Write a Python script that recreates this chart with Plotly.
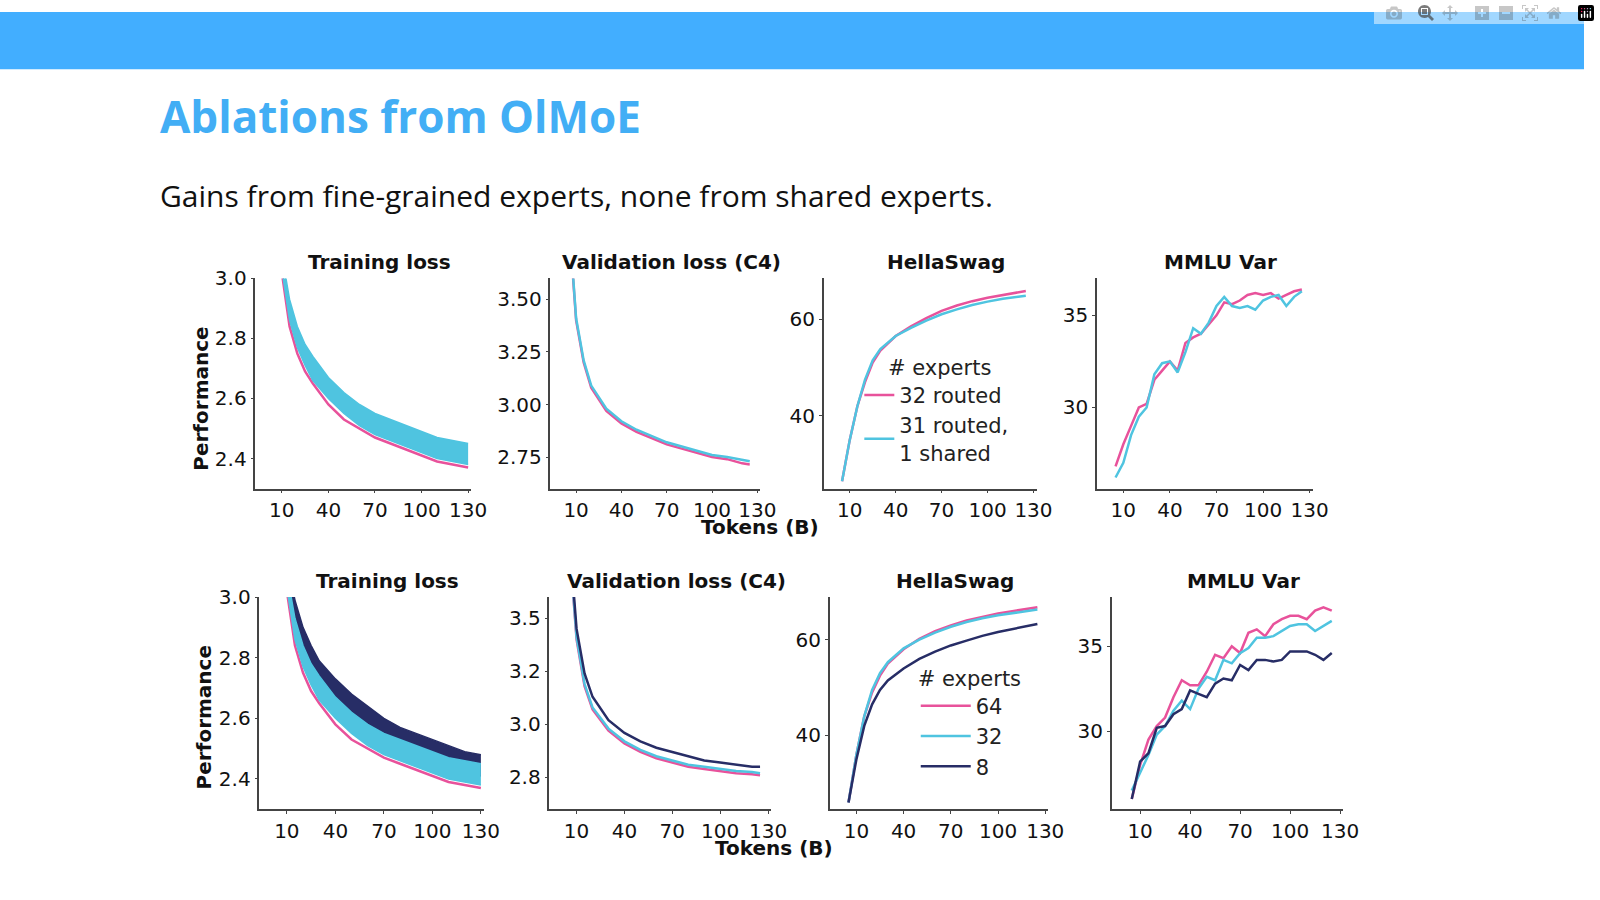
from plotly.subplots import make_subplots
import plotly.graph_objects as go

PINK = "#E8529B"
CYAN = "#4FC4E0"
NAVY = "#272D66"

# ---- data ----
loss_x = [10, 15, 20, 25, 30, 40, 50, 60, 70, 80, 90, 100, 110, 120, 130]
# top row training loss: pink lower edge, cyan band
tr_pink_lo = [3.02, 2.84, 2.75, 2.69, 2.65, 2.58, 2.53, 2.50, 2.47, 2.45, 2.43, 2.41, 2.39, 2.38, 2.37]
tr_cyan_lo = [3.03, 2.86, 2.77, 2.71, 2.66, 2.60, 2.55, 2.51, 2.48, 2.46, 2.44, 2.42, 2.40, 2.39, 2.38]
tr_cyan_hi = [3.08, 2.93, 2.84, 2.78, 2.74, 2.67, 2.62, 2.58, 2.55, 2.53, 2.51, 2.49, 2.47, 2.46, 2.45]
# bottom row training loss
tr2_pink_lo = [3.02, 2.84, 2.75, 2.69, 2.65, 2.58, 2.53, 2.50, 2.47, 2.45, 2.43, 2.41, 2.39, 2.38, 2.37]
tr2_cyan_lo = [3.03, 2.86, 2.77, 2.71, 2.66, 2.60, 2.55, 2.51, 2.48, 2.46, 2.44, 2.42, 2.40, 2.39, 2.38]
tr2_cyan_hi = [3.08, 2.93, 2.84, 2.78, 2.74, 2.67, 2.62, 2.58, 2.55, 2.53, 2.51, 2.49, 2.47, 2.46, 2.45]
tr2_navy_lo = [3.05, 2.90, 2.81, 2.75, 2.70, 2.63, 2.58, 2.54, 2.51, 2.49, 2.47, 2.45, 2.43, 2.42, 2.41]
tr2_navy_hi = [3.12, 2.99, 2.90, 2.84, 2.79, 2.73, 2.68, 2.64, 2.60, 2.57, 2.55, 2.53, 2.51, 2.49, 2.48]

val_x = [5, 8, 10, 15, 20, 30, 40, 50, 60, 70, 80, 90, 100, 110, 120, 125]
val_pink = [3.90, 3.58, 3.40, 3.20, 3.08, 2.97, 2.91, 2.87, 2.84, 2.81, 2.79, 2.77, 2.75, 2.74, 2.72, 2.715]
val_cyan = [3.91, 3.59, 3.41, 3.21, 3.09, 2.98, 2.92, 2.88, 2.85, 2.82, 2.80, 2.78, 2.76, 2.75, 2.735, 2.73]
val2_pink = [3.90, 3.58, 3.40, 3.18, 3.07, 2.97, 2.91, 2.87, 2.84, 2.82, 2.80, 2.79, 2.78, 2.77, 2.765, 2.76]
val2_cyan = [3.91, 3.59, 3.41, 3.19, 3.08, 2.98, 2.92, 2.88, 2.85, 2.83, 2.81, 2.80, 2.79, 2.78, 2.775, 2.77]
val2_navy = [3.93, 3.62, 3.45, 3.24, 3.13, 3.02, 2.96, 2.92, 2.89, 2.87, 2.85, 2.83, 2.82, 2.81, 2.80, 2.80]

hs_x = [5, 10, 15, 20, 25, 30, 40, 50, 60, 70, 80, 90, 100, 110, 120, 125]
hs_pink = [26.5, 35, 42, 47, 51, 53.5, 56.5, 58.5, 60.2, 61.7, 62.8, 63.7, 64.4, 65.0, 65.5, 65.8]
hs_cyan = [26.5, 35, 42, 47.5, 51.5, 53.8, 56.5, 58.2, 59.7, 61.0, 62.0, 62.9, 63.6, 64.2, 64.6, 64.8]
hs2_pink = [26, 36, 44, 49, 52.5, 55, 58, 60.2, 61.8, 63.0, 64.0, 64.8, 65.5, 66.0, 66.5, 66.8]
hs2_cyan = [26, 36, 44, 49.5, 53, 55.3, 58.2, 60.0, 61.5, 62.7, 63.7, 64.5, 65.1, 65.6, 66.0, 66.3]
hs2_navy = [26, 35, 42, 46.5, 49.5, 51.5, 54, 56, 57.5, 58.8, 59.8, 60.8, 61.6, 62.3, 63.0, 63.3]

mm_x = [5, 10, 15, 20, 25, 30, 35, 40, 45, 50, 55, 60, 65, 70, 75, 80, 85, 90, 95, 100, 105, 110, 115, 120, 125]
mm_pink = [26.8, 28.0, 29.0, 30.0, 30.2, 31.5, 32.0, 32.5, 32.0, 33.5, 33.8, 34.0, 34.5, 35.0, 35.7, 35.6, 35.8, 36.1, 36.2, 36.1, 36.2, 35.9, 36.1, 36.3, 36.4]
mm_cyan = [26.2, 27.0, 28.5, 29.5, 30.0, 31.8, 32.4, 32.5, 31.9, 33.0, 34.3, 34.0, 34.6, 35.5, 36.0, 35.5, 35.4, 35.5, 35.3, 35.8, 36.0, 36.1, 35.5, 36.0, 36.3]
mm2_pink = [26.0, 28.0, 29.5, 30.3, 30.8, 32.0, 33.0, 32.7, 32.7, 33.5, 34.5, 34.3, 35.0, 34.6, 35.8, 36.0, 35.6, 36.3, 36.6, 36.8, 36.8, 36.6, 37.1, 37.3, 37.1]
mm2_cyan = [26.5, 27.5, 28.6, 29.8, 30.3, 31.2, 31.8, 31.3, 32.5, 33.2, 33.0, 34.2, 34.0, 34.6, 34.9, 35.5, 35.5, 35.6, 35.9, 36.2, 36.3, 36.3, 35.9, 36.2, 36.5]
mm2_navy = [26.0, 28.2, 28.7, 30.2, 30.3, 31.0, 31.3, 32.4, 32.2, 32.0, 32.8, 33.1, 33.0, 33.9, 33.6, 34.2, 34.2, 34.1, 34.2, 34.7, 34.7, 34.7, 34.5, 34.2, 34.6]

panel_titles = ["Training loss", "Validation loss (C4)", "HellaSwag", "MMLU Var"]
x_ticks = [10, 40, 70, 100, 130]

W, H = 1600, 900
fig = make_subplots(rows=2, cols=4)

def band(x, lo, hi, color, row, col):
    fig.add_trace(go.Scatter(x=x, y=lo, mode="lines", line=dict(color=color, width=1.5),
                             showlegend=False, hoverinfo="skip"), row=row, col=col)
    fig.add_trace(go.Scatter(x=x, y=hi, mode="lines", line=dict(color=color, width=1.5),
                             fill="tonexty", fillcolor=color, showlegend=False), row=row, col=col)

def line(x, y, color, row, col, name=None, legend="legend"):
    fig.add_trace(go.Scatter(x=x, y=y, mode="lines", line=dict(color=color, width=2.5),
                             name=name, showlegend=name is not None, legend=legend), row=row, col=col)

# top row
fig.add_trace(go.Scatter(x=loss_x, y=tr_pink_lo, mode="lines", line=dict(color=PINK, width=2.5),
                         showlegend=False), row=1, col=1)
band(loss_x, tr_cyan_lo, tr_cyan_hi, CYAN, 1, 1)
line(val_x, val_pink, PINK, 1, 2)
line(val_x, val_cyan, CYAN, 1, 2)
line(hs_x, hs_pink, PINK, 1, 3, "32 routed")
line(hs_x, hs_cyan, CYAN, 1, 3, "31 routed,<br>1 shared")
line(mm_x, mm_pink, PINK, 1, 4)
line(mm_x, mm_cyan, CYAN, 1, 4)

# bottom row
band(loss_x, tr2_navy_lo, tr2_navy_hi, NAVY, 2, 1)
fig.add_trace(go.Scatter(x=loss_x, y=tr2_pink_lo, mode="lines", line=dict(color=PINK, width=2.5),
                         showlegend=False), row=2, col=1)
band(loss_x, tr2_cyan_lo, tr2_cyan_hi, CYAN, 2, 1)
line(val_x, val2_pink, PINK, 2, 2)
line(val_x, val2_cyan, CYAN, 2, 2)
line(val_x, val2_navy, NAVY, 2, 2)
line(hs_x, hs2_pink, PINK, 2, 3, "64", "legend2")
line(hs_x, hs2_cyan, CYAN, 2, 3, "32", "legend2")
line(hs_x, hs2_navy, NAVY, 2, 3, "8", "legend2")
line(mm_x, mm2_pink, PINK, 2, 4)
line(mm_x, mm2_cyan, CYAN, 2, 4)
line(mm_x, mm2_navy, NAVY, 2, 4)

# panel boxes in pixels: (left, right, top, bottom)
boxes = {
    (1, 1): (258, 476, 270, 483), (1, 2): (556, 768, 270, 483),
    (1, 3): (832, 1047, 270, 483), (1, 4): (1108, 1326, 270, 483),
    (2, 1): (262, 489, 593, 808), (2, 2): (555, 779, 593, 808),
    (2, 3): (838, 1059, 593, 808), (2, 4): (1123, 1357, 593, 808),
}
y_ranges = {
    (1, 1): [2.3, 3.0], (1, 2): [2.6, 3.6], (1, 3): [25, 68.4], (1, 4): [25.6, 37],
    (2, 1): [2.3, 3.0], (2, 2): [2.6, 3.6], (2, 3): [24.6, 68.9], (2, 4): [25.4, 37.9],
}
y_ticks = {
    (1, 1): ([2.4, 2.6, 2.8, 3.0], ["2.4", "2.6", "2.8", "3.0"]),
    (1, 2): ([2.75, 3.0, 3.25, 3.5], ["2.75", "3.00", "3.25", "3.50"]),
    (1, 3): ([40, 60], ["40", "60"]), (1, 4): ([30, 35], ["30", "35"]),
    (2, 1): ([2.4, 2.6, 2.8, 3.0], ["2.4", "2.6", "2.8", "3.0"]),
    (2, 2): ([2.75, 3.0, 3.25, 3.5], ["2.8", "3.0", "3.2", "3.5"]),
    (2, 3): ([40, 60], ["40", "60"]), (2, 4): ([30, 35], ["30", "35"]),
}
tick_font = dict(family="DejaVu Sans", size=20, color="#111")
for (r, c), (l, rr, t, b) in boxes.items():
    fig.update_xaxes(domain=[l / W, rr / W], range=[-7, 132], tickvals=x_ticks,
                     showline=True, linecolor="#444", linewidth=1.5, showgrid=False,
                     zeroline=False, ticks="outside", ticklen=3, tickfont=tick_font,
                     row=r, col=c)
    tv, tt = y_ticks[(r, c)]
    fig.update_yaxes(domain=[1 - b / H, 1 - t / H], range=y_ranges[(r, c)], tickvals=tv, ticktext=tt,
                     showline=True, linecolor="#444", linewidth=1.5, showgrid=False,
                     zeroline=False, ticks="outside", ticklen=3, tickfont=tick_font,
                     row=r, col=c)
    fig.add_annotation(x=(l + rr) / 2 / W + 0.01, y=1 - (t - 2) / H, xref="paper", yref="paper",
                       xanchor="center", yanchor="bottom",
                       text="<b>" + panel_titles[c - 1] + "</b>", showarrow=False,
                       font=dict(family="DejaVu Sans", size=20, color="#111"))

for yp, xp in [(392, 203), (715, 207)]:
    fig.add_annotation(x=xp / W, y=1 - yp / H, xref="paper", yref="paper", text="<b>Performance</b>",
                       xanchor="center", yanchor="middle",
                       textangle=-90, showarrow=False, font=dict(family="DejaVu Sans", size=20, color="#111"))
for yp, xp in [(522, 768), (847, 782)]:
    fig.add_annotation(x=xp / W, y=1 - yp / H, xref="paper", yref="paper", text="<b>Tokens (B)</b>",
                       xanchor="center", yanchor="middle",
                       showarrow=False, font=dict(family="DejaVu Sans", size=20, color="#111"))

# slide title and subtitle
fig.add_annotation(x=160 / W, y=1 - 105 / H, xref="paper", yref="paper", xanchor="left", yanchor="middle",
                   text="<b>Ablations from OlMoE</b>", showarrow=False,
                   font=dict(family="Open Sans", size=44, color="#42AEF5"))
fig.add_annotation(x=160 / W, y=1 - 186 / H, xref="paper", yref="paper", xanchor="left", yanchor="middle",
                   text="Gains from fine-grained experts, none from shared experts.", showarrow=False,
                   font=dict(family="Open Sans", size=30, color="#111"))

fig.add_shape(type="rect", xref="paper", yref="paper", x0=0, x1=1, y0=1 - 58 / H, y1=1,
              fillcolor="#42AEFF", line=dict(width=0), layer="below")

leg_font = dict(family="DejaVu Sans", size=21, color="#222")
fig.update_layout(
    width=W, height=H, margin=dict(l=0, r=0, t=0, b=0),
    plot_bgcolor="white", paper_bgcolor="white",
    legend=dict(x=868 / W, y=1 - 340 / H, xanchor="left", yanchor="top", bgcolor="rgba(0,0,0,0)",
                traceorder="normal",
                title=dict(text="    # experts", font=leg_font), font=leg_font, tracegroupgap=0),
    legend2=dict(x=925 / W, y=1 - 655 / H, xanchor="left", yanchor="top", bgcolor="rgba(0,0,0,0)",
                 traceorder="normal",
                 title=dict(text="# experts", font=leg_font), font=leg_font, itemwidth=50),
)

fig.write_html("out.html",
               post_script="document.body.style.margin='0';document.body.style.overflow='hidden';")
